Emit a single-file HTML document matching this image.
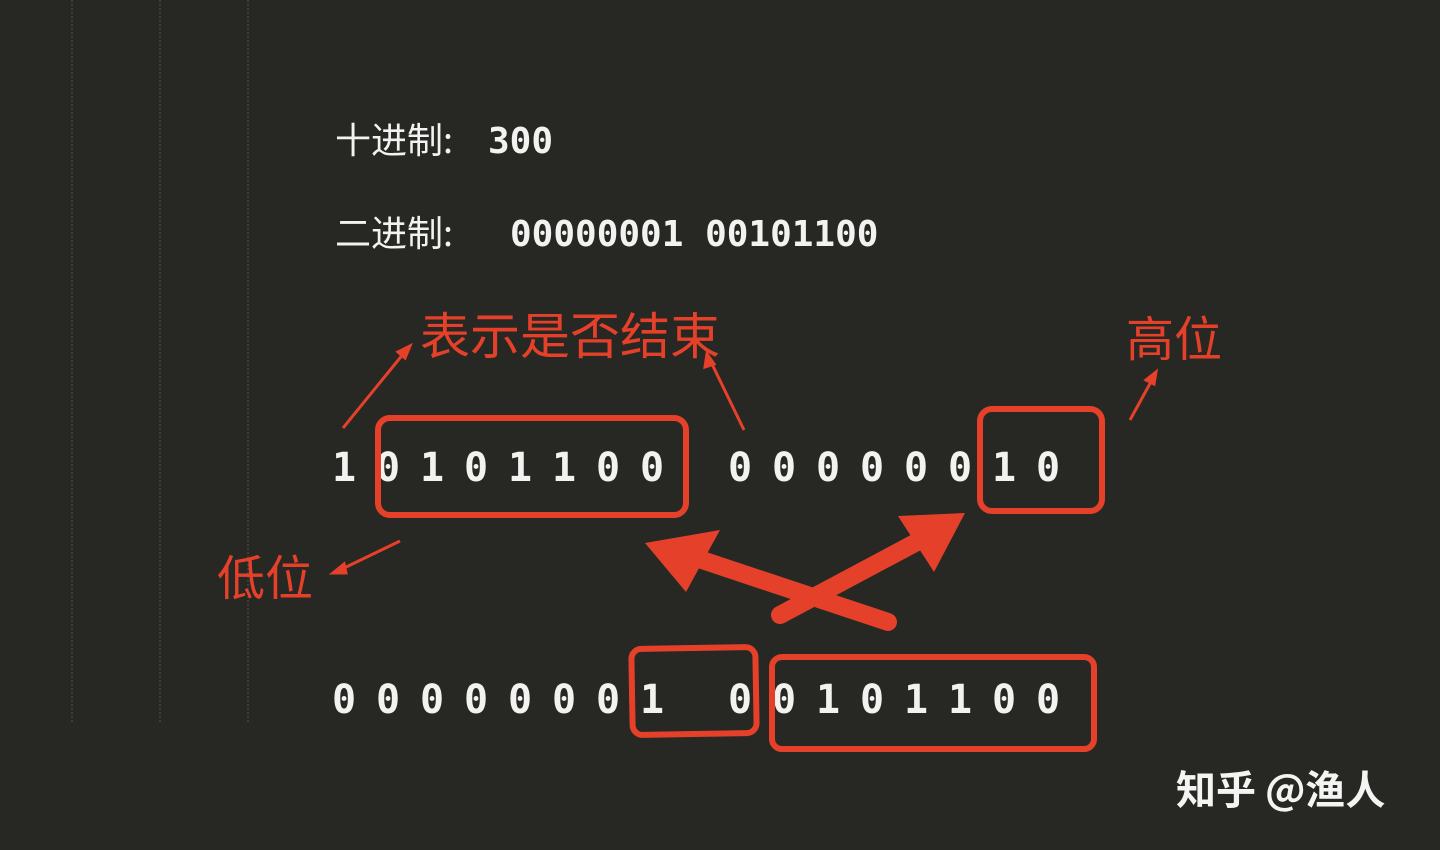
<!DOCTYPE html>
<html><head><meta charset="utf-8"><style>
html,body{margin:0;padding:0;background:#272723;}
svg{display:block}
</style></head><body>
<svg width="1440" height="850" viewBox="0 0 1440 850" xmlns="http://www.w3.org/2000/svg">
<rect width="1440" height="850" fill="#272723"/>
<g stroke="#55554f" stroke-width="1" stroke-dasharray="2,2">
<line x1="72" y1="0" x2="72" y2="722"/><line x1="160" y1="0" x2="160" y2="722"/><line x1="248" y1="0" x2="248" y2="722"/>
</g>
<g fill="#f2f2f0" font-family="'DejaVu Sans Mono','Liberation Mono','Noto Sans CJK SC',monospace" font-weight="bold" font-size="36">
<text x="335" y="153" font-family="'Noto Sans CJK SC',sans-serif" font-weight="normal">十进制:</text>
<text x="488" y="153">300</text>
<text x="335" y="246" font-family="'Noto Sans CJK SC',sans-serif" font-weight="normal">二进制:</text>
<text x="510" y="246">00000001 00101100</text>
</g>
<g fill="#f2f2f0" font-family="'DejaVu Sans Mono','Liberation Mono',monospace" font-weight="bold" font-size="40" text-anchor="middle">
<text y="481"><tspan x="344">1</tspan><tspan x="388">0</tspan><tspan x="432">1</tspan><tspan x="476">0</tspan><tspan x="520">1</tspan><tspan x="564">1</tspan><tspan x="608">0</tspan><tspan x="652">0</tspan><tspan x="740">0</tspan><tspan x="784">0</tspan><tspan x="828">0</tspan><tspan x="872">0</tspan><tspan x="916">0</tspan><tspan x="960">0</tspan><tspan x="1004">1</tspan><tspan x="1048">0</tspan></text>
<text y="713"><tspan x="344">0</tspan><tspan x="388">0</tspan><tspan x="432">0</tspan><tspan x="476">0</tspan><tspan x="520">0</tspan><tspan x="564">0</tspan><tspan x="608">0</tspan><tspan x="652">1</tspan><tspan x="740">0</tspan><tspan x="784">0</tspan><tspan x="828">1</tspan><tspan x="872">0</tspan><tspan x="916">1</tspan><tspan x="960">1</tspan><tspan x="1004">0</tspan><tspan x="1048">0</tspan></text>
</g>
<g fill="none" stroke="#e5412a" stroke-width="6">
<rect x="378" y="418" width="308" height="97" rx="12"/>
<rect x="980" y="409" width="122" height="102" rx="12"/>
<rect x="632" y="648" width="124" height="86" rx="10" transform="rotate(-1 694 691)"/>
<rect x="772" y="657" width="322" height="92" rx="10"/>
</g>
<g fill="#e5412a" font-family="'Noto Sans CJK SC',sans-serif" font-size="50">
<text x="420" y="354">表示是否结束</text>
<text x="1126" y="356" font-size="48">高位</text>
<text x="217" y="595" font-size="48">低位</text>
</g>
<g stroke="#e5412a" stroke-width="3" fill="#e5412a">
<line x1="343" y1="428" x2="404" y2="353"/><polygon points="410,346 398,352 405,358" />
<line x1="744" y1="430" x2="711" y2="362"/><polygon points="707,354 705,367 714,364"/>
<line x1="1130" y1="420" x2="1152" y2="380"/><polygon points="1156,372 1146,380 1154,384"/>
<line x1="400" y1="541" x2="340" y2="570"/><polygon points="333,573 344,564 346,573"/>
</g>
<g fill="#e5412a">
<line x1="888" y1="622" x2="690" y2="556" stroke="#e5412a" stroke-width="18" stroke-linecap="round"/>
<polygon points="645,543 720,530 686,592"/>
<line x1="780" y1="615" x2="930" y2="535" stroke="#e5412a" stroke-width="18" stroke-linecap="round"/>
<polygon points="965,513 898,516 934,572"/>
</g>
<text x="1176" y="804" fill="#f4f4f2" font-family="'Noto Sans CJK SC',sans-serif" font-weight="bold" font-size="40">知乎 @渔人</text>
</svg>
</body></html>
